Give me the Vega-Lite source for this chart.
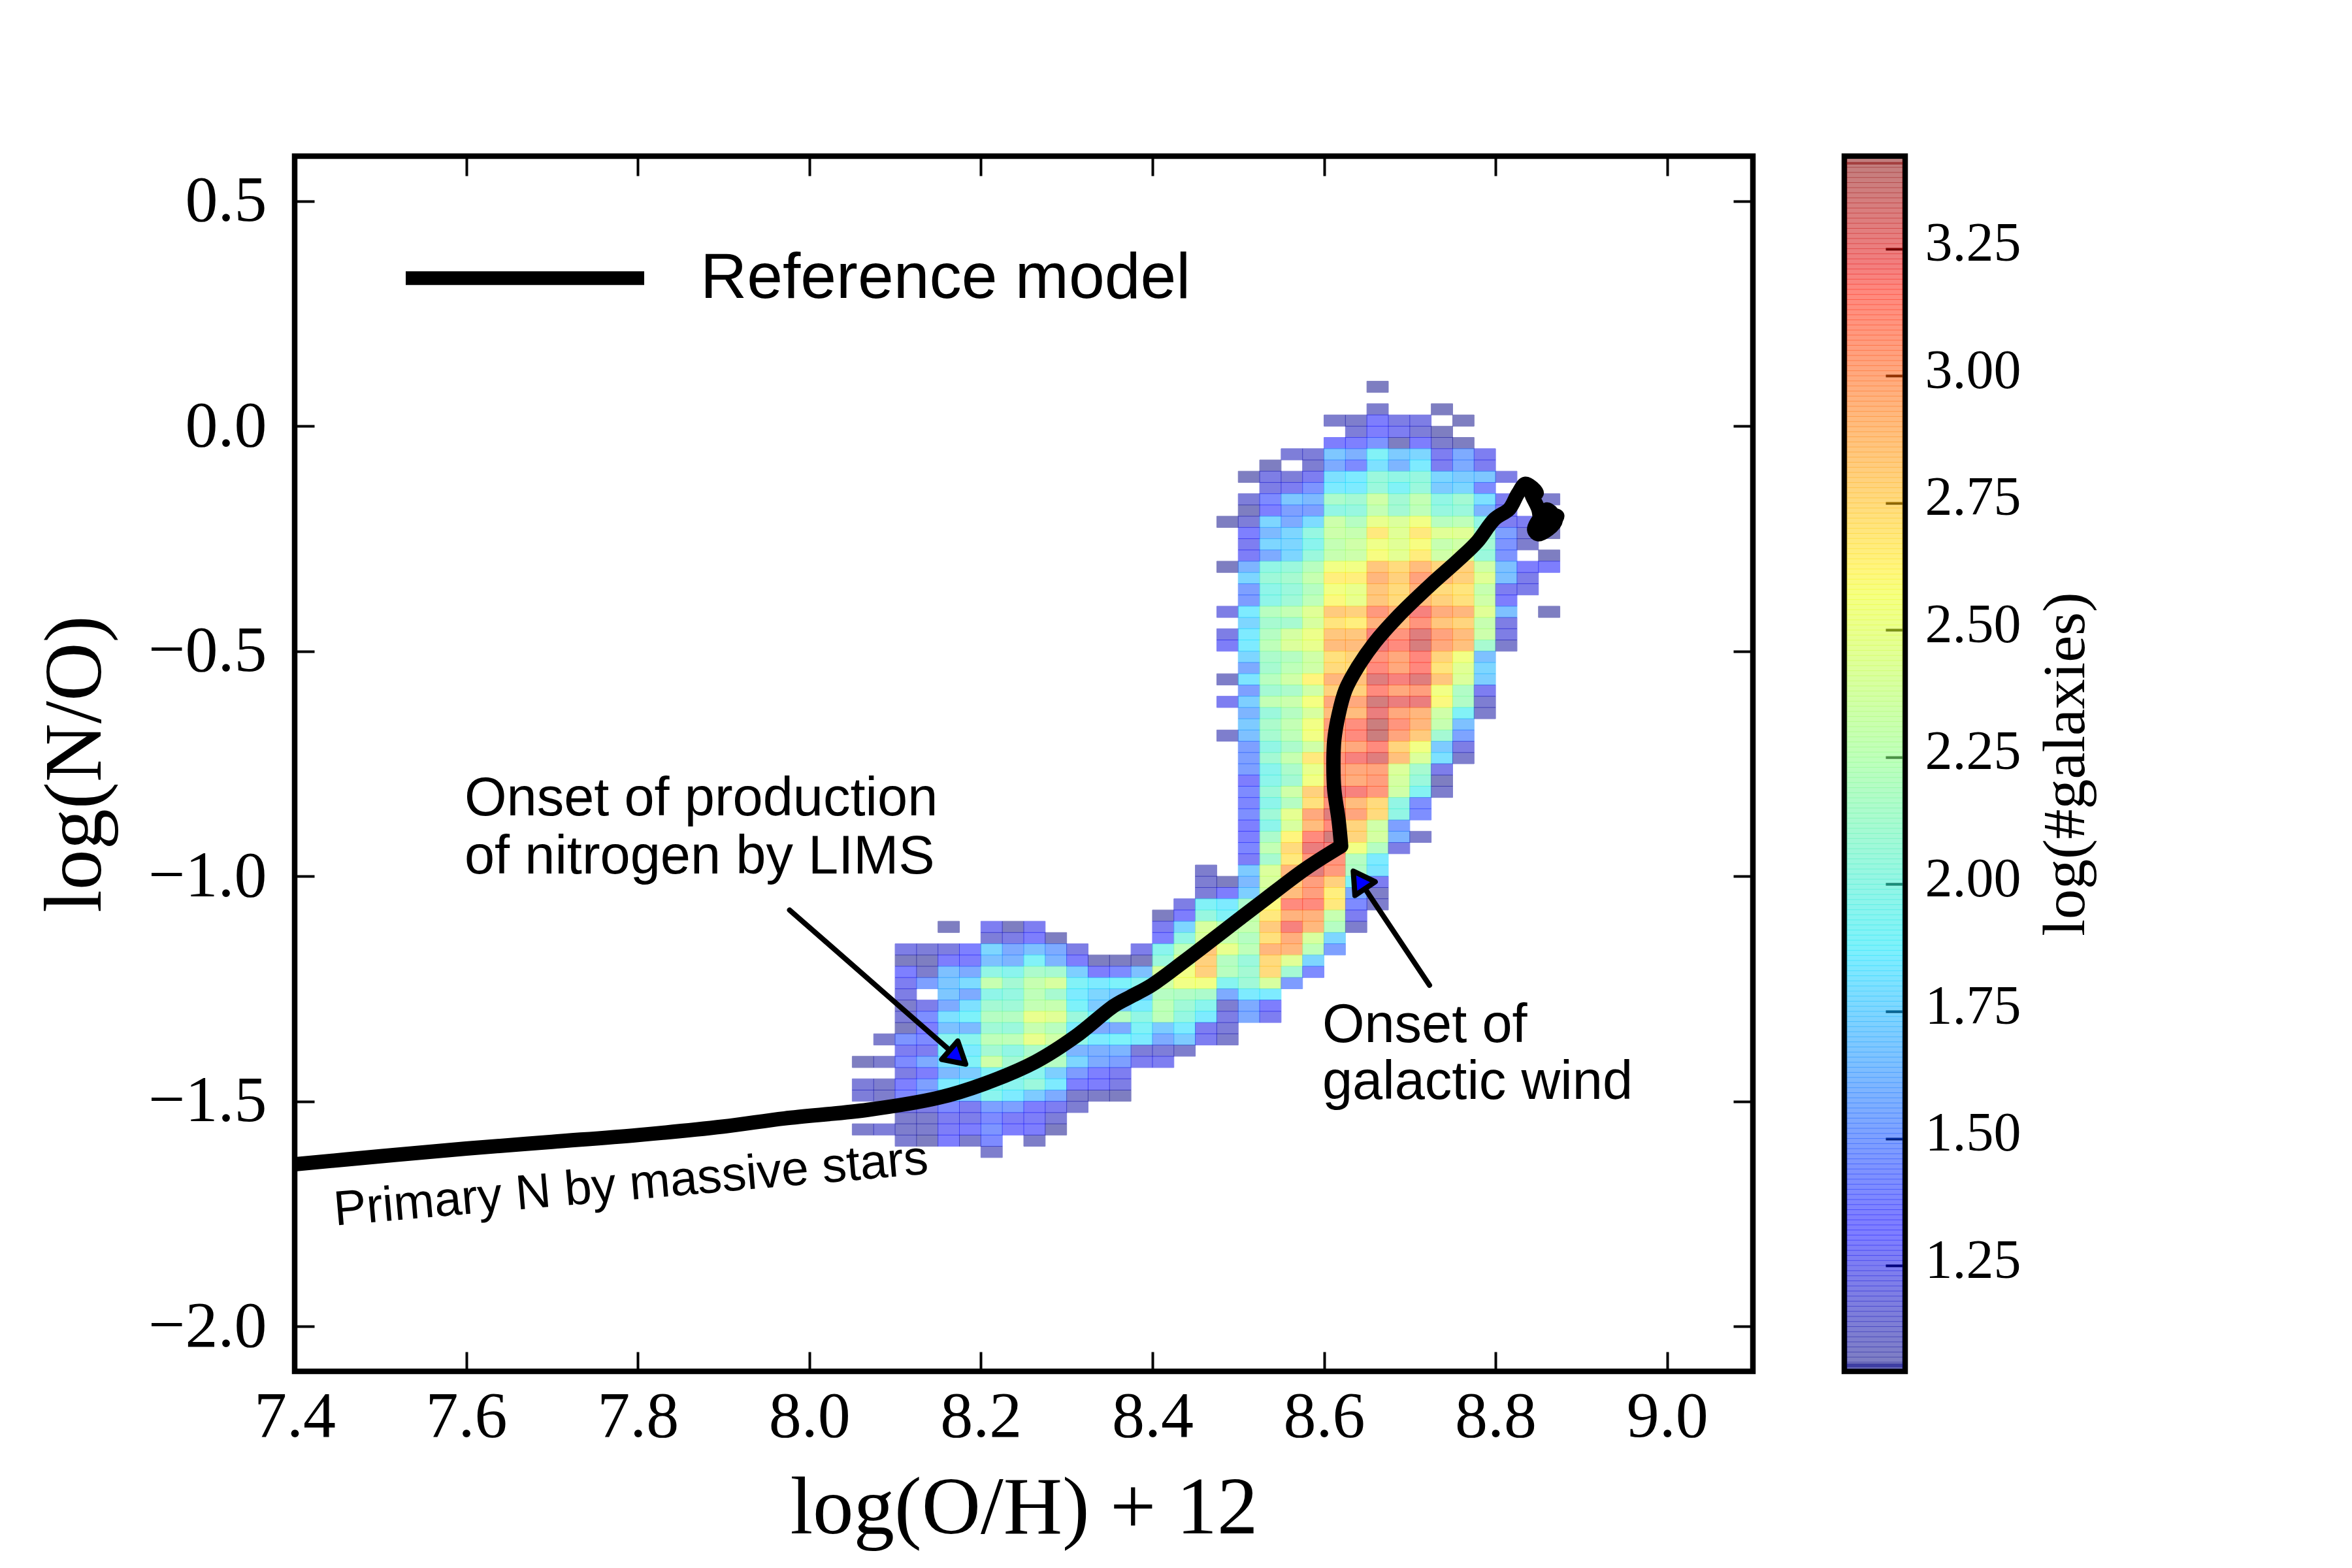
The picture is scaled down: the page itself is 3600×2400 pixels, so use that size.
{
"$schema":"https://vega.github.io/schema/vega-lite/v6.json",
"background":"white",
"padding":{"left":49,"top":232,"right":20,"bottom":20},
"bounds":"flush",
"spacing":140,
"config":{"view":{"stroke":"black","strokeWidth":8.5},"axis":{"labelFont":"Liberation Serif","titleFont":"Liberation Serif","labelColor":"black","titleColor":"black","titleFontWeight":"normal","grid":false,"domain":false,"tickColor":"black","tickWidth":4,"tickSize":-30,"labelLimit":1000}},
"datasets":{
"cells":[
{"x":8.6625,"y":0.0875,"v":1.05},
{"x":8.6625,"y":0.0375,"v":1.1},{"x":8.7375,"y":0.0375,"v":1.05},
{"x":8.6125,"y":0.0125,"v":1.1},{"x":8.6375,"y":0.0125,"v":1.1},{"x":8.6625,"y":0.0125,"v":1.3},{"x":8.6875,"y":0.0125,"v":1.2},{"x":8.7125,"y":0.0125,"v":1.2},{"x":8.7625,"y":0.0125,"v":1.05},
{"x":8.6375,"y":-0.0125,"v":1.15},{"x":8.6625,"y":-0.0125,"v":1.3},{"x":8.6875,"y":-0.0125,"v":1.25},{"x":8.7125,"y":-0.0125,"v":1.15},{"x":8.7375,"y":-0.0125,"v":1.05},
{"x":8.6125,"y":-0.0375,"v":1.3},{"x":8.6375,"y":-0.0375,"v":1.35},{"x":8.6625,"y":-0.0375,"v":1.45},{"x":8.6875,"y":-0.0375,"v":1.05},{"x":8.7125,"y":-0.0375,"v":1.3},{"x":8.7375,"y":-0.0375,"v":1.1},{"x":8.7625,"y":-0.0375,"v":1.05},
{"x":8.5625,"y":-0.0625,"v":1.15},{"x":8.5875,"y":-0.0625,"v":1.15},{"x":8.6125,"y":-0.0625,"v":1.68},{"x":8.6375,"y":-0.0625,"v":1.58},{"x":8.6625,"y":-0.0625,"v":1.9},{"x":8.6875,"y":-0.0625,"v":1.7},{"x":8.7125,"y":-0.0625,"v":1.75},{"x":8.7375,"y":-0.0625,"v":1.25},{"x":8.7625,"y":-0.0625,"v":1.55},{"x":8.7875,"y":-0.0625,"v":1.25},
{"x":8.5375,"y":-0.0875,"v":1.05},{"x":8.5875,"y":-0.0875,"v":1.12},{"x":8.6125,"y":-0.0875,"v":1.55},{"x":8.6375,"y":-0.0875,"v":1.4},{"x":8.6625,"y":-0.0875,"v":1.8},{"x":8.6875,"y":-0.0875,"v":1.6},{"x":8.7125,"y":-0.0875,"v":1.85},{"x":8.7375,"y":-0.0875,"v":1.25},{"x":8.7625,"y":-0.0875,"v":1.55},{"x":8.7875,"y":-0.0875,"v":1.25},
{"x":8.5125,"y":-0.1125,"v":1.05},{"x":8.5375,"y":-0.1125,"v":1.2},{"x":8.5625,"y":-0.1125,"v":1.15},{"x":8.5875,"y":-0.1125,"v":1.25},{"x":8.6125,"y":-0.1125,"v":1.8},{"x":8.6375,"y":-0.1125,"v":1.85},{"x":8.6625,"y":-0.1125,"v":2.05},{"x":8.6875,"y":-0.1125,"v":2.0},{"x":8.7125,"y":-0.1125,"v":2.03},{"x":8.7375,"y":-0.1125,"v":1.75},{"x":8.7625,"y":-0.1125,"v":1.7},{"x":8.7875,"y":-0.1125,"v":1.68},{"x":8.8125,"y":-0.1125,"v":1.2},
{"x":8.5375,"y":-0.1375,"v":1.2},{"x":8.5625,"y":-0.1375,"v":1.25},{"x":8.5875,"y":-0.1375,"v":1.45},{"x":8.6125,"y":-0.1375,"v":1.85},{"x":8.6375,"y":-0.1375,"v":1.85},{"x":8.6625,"y":-0.1375,"v":2.05},{"x":8.6875,"y":-0.1375,"v":1.9},{"x":8.7125,"y":-0.1375,"v":2.05},{"x":8.7375,"y":-0.1375,"v":1.7},{"x":8.7625,"y":-0.1375,"v":1.75},{"x":8.7875,"y":-0.1375,"v":1.4},
{"x":8.5125,"y":-0.1625,"v":1.15},{"x":8.5375,"y":-0.1625,"v":1.4},{"x":8.5625,"y":-0.1625,"v":1.68},{"x":8.5875,"y":-0.1625,"v":1.62},{"x":8.6125,"y":-0.1625,"v":2.15},{"x":8.6375,"y":-0.1625,"v":2.1},{"x":8.6625,"y":-0.1625,"v":2.35},{"x":8.6875,"y":-0.1625,"v":2.1},{"x":8.7125,"y":-0.1625,"v":2.28},{"x":8.7375,"y":-0.1625,"v":2.0},{"x":8.7625,"y":-0.1625,"v":2.1},{"x":8.7875,"y":-0.1625,"v":1.8},{"x":8.8125,"y":-0.1625,"v":1.25},{"x":8.8625,"y":-0.1625,"v":1.1},
{"x":8.5125,"y":-0.1875,"v":1.05},{"x":8.5375,"y":-0.1875,"v":1.35},{"x":8.5625,"y":-0.1875,"v":1.5},{"x":8.5875,"y":-0.1875,"v":1.5},{"x":8.6125,"y":-0.1875,"v":2.0},{"x":8.6375,"y":-0.1875,"v":2.03},{"x":8.6625,"y":-0.1875,"v":2.28},{"x":8.6875,"y":-0.1875,"v":2.1},{"x":8.7125,"y":-0.1875,"v":2.25},{"x":8.7375,"y":-0.1875,"v":2.03},{"x":8.7625,"y":-0.1875,"v":2.05},{"x":8.7875,"y":-0.1875,"v":1.6},{"x":8.8125,"y":-0.1875,"v":1.25},
{"x":8.4875,"y":-0.2125,"v":1.05},{"x":8.5125,"y":-0.2125,"v":1.15},{"x":8.5375,"y":-0.2125,"v":1.75},{"x":8.5625,"y":-0.2125,"v":1.55},{"x":8.5875,"y":-0.2125,"v":1.78},{"x":8.6125,"y":-0.2125,"v":2.33},{"x":8.6375,"y":-0.2125,"v":2.2},{"x":8.6625,"y":-0.2125,"v":2.5},{"x":8.6875,"y":-0.2125,"v":2.42},{"x":8.7125,"y":-0.2125,"v":2.55},{"x":8.7375,"y":-0.2125,"v":2.22},{"x":8.7625,"y":-0.2125,"v":2.25},{"x":8.7875,"y":-0.2125,"v":2.0},{"x":8.8125,"y":-0.2125,"v":1.25},{"x":8.8375,"y":-0.2125,"v":1.25},{"x":8.8625,"y":-0.2125,"v":1.15},
{"x":8.5125,"y":-0.2375,"v":1.35},{"x":8.5375,"y":-0.2375,"v":1.62},{"x":8.5625,"y":-0.2375,"v":1.75},{"x":8.5875,"y":-0.2375,"v":2.02},{"x":8.6125,"y":-0.2375,"v":2.33},{"x":8.6375,"y":-0.2375,"v":2.3},{"x":8.6625,"y":-0.2375,"v":2.68},{"x":8.6875,"y":-0.2375,"v":2.45},{"x":8.7125,"y":-0.2375,"v":2.68},{"x":8.7375,"y":-0.2375,"v":2.45},{"x":8.7625,"y":-0.2375,"v":2.45},{"x":8.7875,"y":-0.2375,"v":2.1},{"x":8.8125,"y":-0.2375,"v":1.5},{"x":8.8375,"y":-0.2375,"v":1.15},{"x":8.8625,"y":-0.2375,"v":1.05},
{"x":8.5125,"y":-0.2625,"v":1.25},{"x":8.5375,"y":-0.2625,"v":1.75},{"x":8.5625,"y":-0.2625,"v":1.75},{"x":8.5875,"y":-0.2625,"v":1.95},{"x":8.6125,"y":-0.2625,"v":2.28},{"x":8.6375,"y":-0.2625,"v":2.35},{"x":8.6625,"y":-0.2625,"v":2.53},{"x":8.6875,"y":-0.2625,"v":2.45},{"x":8.7125,"y":-0.2625,"v":2.58},{"x":8.7375,"y":-0.2625,"v":2.3},{"x":8.7625,"y":-0.2625,"v":2.35},{"x":8.7875,"y":-0.2625,"v":2.1},{"x":8.8125,"y":-0.2625,"v":1.45},{"x":8.8375,"y":-0.2625,"v":1.1},
{"x":8.5125,"y":-0.2875,"v":1.28},{"x":8.5375,"y":-0.2875,"v":1.55},{"x":8.5625,"y":-0.2875,"v":1.75},{"x":8.5875,"y":-0.2875,"v":2.05},{"x":8.6125,"y":-0.2875,"v":2.3},{"x":8.6375,"y":-0.2875,"v":2.33},{"x":8.6625,"y":-0.2875,"v":2.58},{"x":8.6875,"y":-0.2875,"v":2.47},{"x":8.7125,"y":-0.2875,"v":2.66},{"x":8.7375,"y":-0.2875,"v":2.35},{"x":8.7625,"y":-0.2875,"v":2.4},{"x":8.7875,"y":-0.2875,"v":2.05},{"x":8.8125,"y":-0.2875,"v":1.45},{"x":8.8625,"y":-0.2875,"v":1.05},
{"x":8.4875,"y":-0.3125,"v":1.05},{"x":8.5125,"y":-0.3125,"v":1.6},{"x":8.5375,"y":-0.3125,"v":2.0},{"x":8.5625,"y":-0.3125,"v":2.05},{"x":8.5875,"y":-0.3125,"v":2.22},{"x":8.6125,"y":-0.3125,"v":2.55},{"x":8.6375,"y":-0.3125,"v":2.55},{"x":8.6625,"y":-0.3125,"v":2.85},{"x":8.6875,"y":-0.3125,"v":2.75},{"x":8.7125,"y":-0.3125,"v":2.9},{"x":8.7375,"y":-0.3125,"v":2.78},{"x":8.7625,"y":-0.3125,"v":2.8},{"x":8.7875,"y":-0.3125,"v":2.35},{"x":8.8125,"y":-0.3125,"v":1.65},{"x":8.8375,"y":-0.3125,"v":1.3},{"x":8.8625,"y":-0.3125,"v":1.3},
{"x":8.5125,"y":-0.3375,"v":1.75},{"x":8.5375,"y":-0.3375,"v":2.07},{"x":8.5625,"y":-0.3375,"v":2.12},{"x":8.5875,"y":-0.3375,"v":2.3},{"x":8.6125,"y":-0.3375,"v":2.65},{"x":8.6375,"y":-0.3375,"v":2.65},{"x":8.6625,"y":-0.3375,"v":2.93},{"x":8.6875,"y":-0.3375,"v":2.8},{"x":8.7125,"y":-0.3375,"v":3.03},{"x":8.7375,"y":-0.3375,"v":2.9},{"x":8.7625,"y":-0.3375,"v":2.8},{"x":8.7875,"y":-0.3375,"v":2.45},{"x":8.8125,"y":-0.3375,"v":1.65},{"x":8.8375,"y":-0.3375,"v":1.22},
{"x":8.5125,"y":-0.3625,"v":1.5},{"x":8.5375,"y":-0.3625,"v":1.98},{"x":8.5625,"y":-0.3625,"v":2.05},{"x":8.5875,"y":-0.3625,"v":2.2},{"x":8.6125,"y":-0.3625,"v":2.55},{"x":8.6375,"y":-0.3625,"v":2.5},{"x":8.6625,"y":-0.3625,"v":2.85},{"x":8.6875,"y":-0.3625,"v":2.75},{"x":8.7125,"y":-0.3625,"v":2.95},{"x":8.7375,"y":-0.3625,"v":2.75},{"x":8.7625,"y":-0.3625,"v":2.7},{"x":8.7875,"y":-0.3625,"v":2.3},{"x":8.8125,"y":-0.3625,"v":1.25},{"x":8.8375,"y":-0.3625,"v":1.22},
{"x":8.5125,"y":-0.3875,"v":1.48},{"x":8.5375,"y":-0.3875,"v":1.98},{"x":8.5625,"y":-0.3875,"v":2.08},{"x":8.5875,"y":-0.3875,"v":2.25},{"x":8.6125,"y":-0.3875,"v":2.6},{"x":8.6375,"y":-0.3875,"v":2.5},{"x":8.6625,"y":-0.3875,"v":2.85},{"x":8.6875,"y":-0.3875,"v":2.75},{"x":8.7125,"y":-0.3875,"v":2.9},{"x":8.7375,"y":-0.3875,"v":2.8},{"x":8.7625,"y":-0.3875,"v":2.72},{"x":8.7875,"y":-0.3875,"v":2.35},{"x":8.8125,"y":-0.3875,"v":1.3},
{"x":8.4875,"y":-0.4125,"v":1.2},{"x":8.5125,"y":-0.4125,"v":1.85},{"x":8.5375,"y":-0.4125,"v":2.22},{"x":8.5625,"y":-0.4125,"v":2.28},{"x":8.5875,"y":-0.4125,"v":2.45},{"x":8.6125,"y":-0.4125,"v":2.83},{"x":8.6375,"y":-0.4125,"v":2.8},{"x":8.6625,"y":-0.4125,"v":3.08},{"x":8.6875,"y":-0.4125,"v":2.95},{"x":8.7125,"y":-0.4125,"v":3.2},{"x":8.7375,"y":-0.4125,"v":2.98},{"x":8.7625,"y":-0.4125,"v":2.93},{"x":8.7875,"y":-0.4125,"v":2.45},{"x":8.8125,"y":-0.4125,"v":1.65},{"x":8.8625,"y":-0.4125,"v":1.05},
{"x":8.5125,"y":-0.4375,"v":1.75},{"x":8.5375,"y":-0.4375,"v":2.12},{"x":8.5625,"y":-0.4375,"v":2.12},{"x":8.5875,"y":-0.4375,"v":2.4},{"x":8.6125,"y":-0.4375,"v":2.7},{"x":8.6375,"y":-0.4375,"v":2.65},{"x":8.6625,"y":-0.4375,"v":2.95},{"x":8.6875,"y":-0.4375,"v":2.9},{"x":8.7125,"y":-0.4375,"v":3.1},{"x":8.7375,"y":-0.4375,"v":2.85},{"x":8.7625,"y":-0.4375,"v":2.78},{"x":8.7875,"y":-0.4375,"v":2.3},{"x":8.8125,"y":-0.4375,"v":1.2},
{"x":8.4875,"y":-0.4625,"v":1.2},{"x":8.5125,"y":-0.4625,"v":1.85},{"x":8.5375,"y":-0.4625,"v":2.2},{"x":8.5625,"y":-0.4625,"v":2.38},{"x":8.5875,"y":-0.4625,"v":2.52},{"x":8.6125,"y":-0.4625,"v":2.85},{"x":8.6375,"y":-0.4625,"v":2.85},{"x":8.6625,"y":-0.4625,"v":3.2},{"x":8.6875,"y":-0.4625,"v":3.1},{"x":8.7125,"y":-0.4625,"v":3.3},{"x":8.7375,"y":-0.4625,"v":3.03},{"x":8.7625,"y":-0.4625,"v":2.9},{"x":8.7875,"y":-0.4625,"v":2.33},{"x":8.8125,"y":-0.4625,"v":1.2},
{"x":8.4875,"y":-0.4875,"v":1.28},{"x":8.5125,"y":-0.4875,"v":1.85},{"x":8.5375,"y":-0.4875,"v":2.25},{"x":8.5625,"y":-0.4875,"v":2.42},{"x":8.5875,"y":-0.4875,"v":2.5},{"x":8.6125,"y":-0.4875,"v":2.9},{"x":8.6375,"y":-0.4875,"v":2.9},{"x":8.6625,"y":-0.4875,"v":3.25},{"x":8.6875,"y":-0.4875,"v":3.15},{"x":8.7125,"y":-0.4875,"v":3.33},{"x":8.7375,"y":-0.4875,"v":3.0},{"x":8.7625,"y":-0.4875,"v":2.88},{"x":8.7875,"y":-0.4875,"v":2.12},{"x":8.8125,"y":-0.4875,"v":1.1},
{"x":8.5125,"y":-0.5125,"v":1.75},{"x":8.5375,"y":-0.5125,"v":2.15},{"x":8.5625,"y":-0.5125,"v":2.2},{"x":8.5875,"y":-0.5125,"v":2.35},{"x":8.6125,"y":-0.5125,"v":2.72},{"x":8.6375,"y":-0.5125,"v":2.78},{"x":8.6625,"y":-0.5125,"v":3.1},{"x":8.6875,"y":-0.5125,"v":3.0},{"x":8.7125,"y":-0.5125,"v":3.17},{"x":8.7375,"y":-0.5125,"v":2.78},{"x":8.7625,"y":-0.5125,"v":2.55},{"x":8.7875,"y":-0.5125,"v":1.65},
{"x":8.5125,"y":-0.5375,"v":1.55},{"x":8.5375,"y":-0.5375,"v":2.12},{"x":8.5625,"y":-0.5375,"v":2.25},{"x":8.5875,"y":-0.5375,"v":2.35},{"x":8.6125,"y":-0.5375,"v":2.75},{"x":8.6375,"y":-0.5375,"v":2.75},{"x":8.6625,"y":-0.5375,"v":3.15},{"x":8.6875,"y":-0.5375,"v":3.0},{"x":8.7125,"y":-0.5375,"v":3.17},{"x":8.7375,"y":-0.5375,"v":2.7},{"x":8.7625,"y":-0.5375,"v":2.45},{"x":8.7875,"y":-0.5375,"v":1.75},
{"x":8.4875,"y":-0.5625,"v":1.08},{"x":8.5125,"y":-0.5625,"v":1.82},{"x":8.5375,"y":-0.5625,"v":2.22},{"x":8.5625,"y":-0.5625,"v":2.35},{"x":8.5875,"y":-0.5625,"v":2.62},{"x":8.6125,"y":-0.5625,"v":2.93},{"x":8.6375,"y":-0.5625,"v":2.88},{"x":8.6625,"y":-0.5625,"v":3.3},{"x":8.6875,"y":-0.5625,"v":3.2},{"x":8.7125,"y":-0.5625,"v":3.3},{"x":8.7375,"y":-0.5625,"v":2.85},{"x":8.7625,"y":-0.5625,"v":2.42},{"x":8.7875,"y":-0.5625,"v":1.72},
{"x":8.5125,"y":-0.5875,"v":1.5},{"x":8.5375,"y":-0.5875,"v":2.1},{"x":8.5625,"y":-0.5875,"v":2.15},{"x":8.5875,"y":-0.5875,"v":2.35},{"x":8.6125,"y":-0.5875,"v":2.8},{"x":8.6375,"y":-0.5875,"v":2.8},{"x":8.6625,"y":-0.5875,"v":3.15},{"x":8.6875,"y":-0.5875,"v":3.0},{"x":8.7125,"y":-0.5875,"v":3.05},{"x":8.7375,"y":-0.5875,"v":2.55},{"x":8.7625,"y":-0.5875,"v":2.18},{"x":8.7875,"y":-0.5875,"v":1.25},
{"x":8.4875,"y":-0.6125,"v":1.25},{"x":8.5125,"y":-0.6125,"v":1.72},{"x":8.5375,"y":-0.6125,"v":2.28},{"x":8.5625,"y":-0.6125,"v":2.32},{"x":8.5875,"y":-0.6125,"v":2.57},{"x":8.6125,"y":-0.6125,"v":3.0},{"x":8.6375,"y":-0.6125,"v":3.0},{"x":8.6625,"y":-0.6125,"v":3.35},{"x":8.6875,"y":-0.6125,"v":3.25},{"x":8.7125,"y":-0.6125,"v":3.25},{"x":8.7375,"y":-0.6125,"v":2.6},{"x":8.7625,"y":-0.6125,"v":2.18},{"x":8.7875,"y":-0.6125,"v":1.12},
{"x":8.5125,"y":-0.6375,"v":1.6},{"x":8.5375,"y":-0.6375,"v":2.05},{"x":8.5625,"y":-0.6375,"v":2.2},{"x":8.5875,"y":-0.6375,"v":2.4},{"x":8.6125,"y":-0.6375,"v":2.9},{"x":8.6375,"y":-0.6375,"v":2.9},{"x":8.6625,"y":-0.6375,"v":3.25},{"x":8.6875,"y":-0.6375,"v":3.0},{"x":8.7125,"y":-0.6375,"v":2.93},{"x":8.7375,"y":-0.6375,"v":2.35},{"x":8.7625,"y":-0.6375,"v":1.9},{"x":8.7875,"y":-0.6375,"v":1.1},
{"x":8.5125,"y":-0.6625,"v":1.7},{"x":8.5375,"y":-0.6625,"v":2.15},{"x":8.5625,"y":-0.6625,"v":2.28},{"x":8.5875,"y":-0.6625,"v":2.55},{"x":8.6125,"y":-0.6625,"v":3.05},{"x":8.6375,"y":-0.6625,"v":3.13},{"x":8.6625,"y":-0.6625,"v":3.38},{"x":8.6875,"y":-0.6625,"v":3.1},{"x":8.7125,"y":-0.6625,"v":2.93},{"x":8.7375,"y":-0.6625,"v":2.3},{"x":8.7625,"y":-0.6625,"v":1.65},
{"x":8.4875,"y":-0.6875,"v":1.1},{"x":8.5125,"y":-0.6875,"v":1.65},{"x":8.5375,"y":-0.6875,"v":2.12},{"x":8.5625,"y":-0.6875,"v":2.25},{"x":8.5875,"y":-0.6875,"v":2.55},{"x":8.6125,"y":-0.6875,"v":3.05},{"x":8.6375,"y":-0.6875,"v":3.15},{"x":8.6625,"y":-0.6875,"v":3.38},{"x":8.6875,"y":-0.6875,"v":3.02},{"x":8.7125,"y":-0.6875,"v":2.83},{"x":8.7375,"y":-0.6875,"v":2.1},{"x":8.7625,"y":-0.6875,"v":1.52},
{"x":8.5125,"y":-0.7125,"v":1.5},{"x":8.5375,"y":-0.7125,"v":2.0},{"x":8.5625,"y":-0.7125,"v":2.15},{"x":8.5875,"y":-0.7125,"v":2.35},{"x":8.6125,"y":-0.7125,"v":2.95},{"x":8.6375,"y":-0.7125,"v":3.0},{"x":8.6625,"y":-0.7125,"v":3.15},{"x":8.6875,"y":-0.7125,"v":2.78},{"x":8.7125,"y":-0.7125,"v":2.55},{"x":8.7375,"y":-0.7125,"v":1.7},{"x":8.7625,"y":-0.7125,"v":1.2},
{"x":8.5125,"y":-0.7375,"v":1.5},{"x":8.5375,"y":-0.7375,"v":2.1},{"x":8.5625,"y":-0.7375,"v":2.3},{"x":8.5875,"y":-0.7375,"v":2.68},{"x":8.6125,"y":-0.7375,"v":3.1},{"x":8.6375,"y":-0.7375,"v":3.2},{"x":8.6625,"y":-0.7375,"v":3.3},{"x":8.6875,"y":-0.7375,"v":2.88},{"x":8.7125,"y":-0.7375,"v":2.42},{"x":8.7375,"y":-0.7375,"v":1.8},{"x":8.7625,"y":-0.7375,"v":1.1},
{"x":8.5125,"y":-0.7625,"v":1.5},{"x":8.5375,"y":-0.7625,"v":1.95},{"x":8.5625,"y":-0.7625,"v":2.15},{"x":8.5875,"y":-0.7625,"v":2.5},{"x":8.6125,"y":-0.7625,"v":3.05},{"x":8.6375,"y":-0.7625,"v":3.0},{"x":8.6625,"y":-0.7625,"v":3.02},{"x":8.6875,"y":-0.7625,"v":2.42},{"x":8.7125,"y":-0.7625,"v":2.12},{"x":8.7375,"y":-0.7625,"v":1.22},
{"x":8.5125,"y":-0.7875,"v":1.3},{"x":8.5375,"y":-0.7875,"v":1.97},{"x":8.5625,"y":-0.7875,"v":2.1},{"x":8.5875,"y":-0.7875,"v":2.55},{"x":8.6125,"y":-0.7875,"v":3.05},{"x":8.6375,"y":-0.7875,"v":2.98},{"x":8.6625,"y":-0.7875,"v":3.05},{"x":8.6875,"y":-0.7875,"v":2.38},{"x":8.7125,"y":-0.7875,"v":2.05},{"x":8.7375,"y":-0.7875,"v":1.05},
{"x":8.5125,"y":-0.8125,"v":1.4},{"x":8.5375,"y":-0.8125,"v":2.07},{"x":8.5625,"y":-0.8125,"v":2.35},{"x":8.5875,"y":-0.8125,"v":2.8},{"x":8.6125,"y":-0.8125,"v":3.25},{"x":8.6375,"y":-0.8125,"v":3.2},{"x":8.6625,"y":-0.8125,"v":3.08},{"x":8.6875,"y":-0.8125,"v":2.35},{"x":8.7125,"y":-0.8125,"v":1.92},{"x":8.7375,"y":-0.8125,"v":1.1},
{"x":8.5125,"y":-0.8375,"v":1.38},{"x":8.5375,"y":-0.8375,"v":1.97},{"x":8.5625,"y":-0.8375,"v":2.2},{"x":8.5875,"y":-0.8375,"v":2.72},{"x":8.6125,"y":-0.8375,"v":3.1},{"x":8.6375,"y":-0.8375,"v":2.9},{"x":8.6625,"y":-0.8375,"v":2.75},{"x":8.6875,"y":-0.8375,"v":2.0},{"x":8.7125,"y":-0.8375,"v":1.42},
{"x":8.5125,"y":-0.8625,"v":1.42},{"x":8.5375,"y":-0.8625,"v":2.08},{"x":8.5625,"y":-0.8625,"v":2.48},{"x":8.5875,"y":-0.8625,"v":3.0},{"x":8.6125,"y":-0.8625,"v":3.3},{"x":8.6375,"y":-0.8625,"v":3.02},{"x":8.6625,"y":-0.8625,"v":2.75},{"x":8.6875,"y":-0.8625,"v":2.0},{"x":8.7125,"y":-0.8625,"v":1.42},
{"x":8.5125,"y":-0.8875,"v":1.35},{"x":8.5375,"y":-0.8875,"v":1.97},{"x":8.5625,"y":-0.8875,"v":2.4},{"x":8.5875,"y":-0.8875,"v":2.9},{"x":8.6125,"y":-0.8875,"v":3.15},{"x":8.6375,"y":-0.8875,"v":2.78},{"x":8.6625,"y":-0.8875,"v":2.35},{"x":8.6875,"y":-0.8875,"v":1.5},
{"x":8.5125,"y":-0.9125,"v":1.35},{"x":8.5375,"y":-0.9125,"v":2.15},{"x":8.5625,"y":-0.9125,"v":2.62},{"x":8.5875,"y":-0.9125,"v":3.15},{"x":8.6125,"y":-0.9125,"v":3.35},{"x":8.6375,"y":-0.9125,"v":2.78},{"x":8.6625,"y":-0.9125,"v":2.38},{"x":8.6875,"y":-0.9125,"v":1.6},{"x":8.7125,"y":-0.9125,"v":1.1},
{"x":8.5125,"y":-0.9375,"v":1.38},{"x":8.5375,"y":-0.9375,"v":2.28},{"x":8.5625,"y":-0.9375,"v":2.75},{"x":8.5875,"y":-0.9375,"v":3.25},{"x":8.6125,"y":-0.9375,"v":3.2},{"x":8.6375,"y":-0.9375,"v":2.55},{"x":8.6625,"y":-0.9375,"v":2.2},{"x":8.6875,"y":-0.9375,"v":1.2},
{"x":8.5125,"y":-0.9625,"v":1.28},{"x":8.5375,"y":-0.9625,"v":2.12},{"x":8.5625,"y":-0.9625,"v":2.68},{"x":8.5875,"y":-0.9625,"v":3.08},{"x":8.6125,"y":-0.9625,"v":3.1},{"x":8.6375,"y":-0.9625,"v":2.2},{"x":8.6625,"y":-0.9625,"v":1.85},
{"x":8.4625,"y":-0.9875,"v":1.1},{"x":8.5125,"y":-0.9875,"v":1.7},{"x":8.5375,"y":-0.9875,"v":2.42},{"x":8.5625,"y":-0.9875,"v":2.93},{"x":8.5875,"y":-0.9875,"v":3.3},{"x":8.6125,"y":-0.9875,"v":3.07},{"x":8.6375,"y":-0.9875,"v":2.18},{"x":8.6625,"y":-0.9875,"v":1.82},
{"x":8.4625,"y":-1.0125,"v":1.12},{"x":8.4875,"y":-1.0125,"v":1.05},{"x":8.5125,"y":-1.0125,"v":1.62},{"x":8.5375,"y":-1.0125,"v":2.4},{"x":8.5625,"y":-1.0125,"v":2.85},{"x":8.5875,"y":-1.0125,"v":3.05},{"x":8.6125,"y":-1.0125,"v":2.8},{"x":8.6375,"y":-1.0125,"v":1.9},{"x":8.6625,"y":-1.0125,"v":1.25},
{"x":8.4625,"y":-1.0375,"v":1.15},{"x":8.4875,"y":-1.0375,"v":1.3},{"x":8.5125,"y":-1.0375,"v":1.72},{"x":8.5375,"y":-1.0375,"v":2.35},{"x":8.5625,"y":-1.0375,"v":2.9},{"x":8.5875,"y":-1.0375,"v":3.05},{"x":8.6125,"y":-1.0375,"v":2.65},{"x":8.6375,"y":-1.0375,"v":1.55},{"x":8.6625,"y":-1.0375,"v":1.08},
{"x":8.4375,"y":-1.0625,"v":1.2},{"x":8.4625,"y":-1.0625,"v":1.9},{"x":8.4875,"y":-1.0625,"v":1.85},{"x":8.5125,"y":-1.0625,"v":2.15},{"x":8.5375,"y":-1.0625,"v":2.6},{"x":8.5625,"y":-1.0625,"v":3.15},{"x":8.5875,"y":-1.0625,"v":3.15},{"x":8.6125,"y":-1.0625,"v":2.68},{"x":8.6375,"y":-1.0625,"v":1.4},{"x":8.6625,"y":-1.0625,"v":1.1},
{"x":8.4125,"y":-1.0875,"v":1.05},{"x":8.4375,"y":-1.0875,"v":1.3},{"x":8.4625,"y":-1.0875,"v":2.03},{"x":8.4875,"y":-1.0875,"v":1.9},{"x":8.5125,"y":-1.0875,"v":2.3},{"x":8.5375,"y":-1.0875,"v":2.68},{"x":8.5625,"y":-1.0875,"v":2.95},{"x":8.5875,"y":-1.0875,"v":2.95},{"x":8.6125,"y":-1.0875,"v":2.3},{"x":8.6375,"y":-1.0875,"v":1.25},
{"x":8.1625,"y":-1.1125,"v":1.05},{"x":8.2125,"y":-1.1125,"v":1.25},{"x":8.2375,"y":-1.1125,"v":1.05},{"x":8.2625,"y":-1.1125,"v":1.25},{"x":8.4125,"y":-1.1125,"v":1.25},{"x":8.4375,"y":-1.1125,"v":1.75},{"x":8.4625,"y":-1.1125,"v":2.4},{"x":8.4875,"y":-1.1125,"v":2.25},{"x":8.5125,"y":-1.1125,"v":2.3},{"x":8.5375,"y":-1.1125,"v":2.83},{"x":8.5625,"y":-1.1125,"v":3.2},{"x":8.5875,"y":-1.1125,"v":2.92},{"x":8.6125,"y":-1.1125,"v":2.2},{"x":8.6375,"y":-1.1125,"v":1.1},
{"x":8.2125,"y":-1.1375,"v":1.15},{"x":8.2375,"y":-1.1375,"v":1.2},{"x":8.2625,"y":-1.1375,"v":1.3},{"x":8.2875,"y":-1.1375,"v":1.05},{"x":8.4125,"y":-1.1375,"v":1.35},{"x":8.4375,"y":-1.1375,"v":2.0},{"x":8.4625,"y":-1.1375,"v":2.4},{"x":8.4875,"y":-1.1375,"v":2.3},{"x":8.5125,"y":-1.1375,"v":2.2},{"x":8.5375,"y":-1.1375,"v":2.72},{"x":8.5625,"y":-1.1375,"v":2.97},{"x":8.5875,"y":-1.1375,"v":2.4},{"x":8.6125,"y":-1.1375,"v":1.75},
{"x":8.1125,"y":-1.1625,"v":1.2},{"x":8.1375,"y":-1.1625,"v":1.15},{"x":8.1625,"y":-1.1625,"v":1.18},{"x":8.1875,"y":-1.1625,"v":1.35},{"x":8.2125,"y":-1.1625,"v":1.75},{"x":8.2375,"y":-1.1625,"v":1.55},{"x":8.2625,"y":-1.1625,"v":1.65},{"x":8.2875,"y":-1.1625,"v":1.55},{"x":8.3125,"y":-1.1625,"v":1.2},{"x":8.3875,"y":-1.1625,"v":1.22},{"x":8.4125,"y":-1.1625,"v":1.95},{"x":8.4375,"y":-1.1625,"v":2.25},{"x":8.4625,"y":-1.1625,"v":2.85},{"x":8.4875,"y":-1.1625,"v":2.5},{"x":8.5125,"y":-1.1625,"v":2.25},{"x":8.5375,"y":-1.1625,"v":2.93},{"x":8.5625,"y":-1.1625,"v":2.92},{"x":8.5875,"y":-1.1625,"v":2.25},{"x":8.6125,"y":-1.1625,"v":1.5},
{"x":8.1125,"y":-1.1875,"v":1.05},{"x":8.1375,"y":-1.1875,"v":1.05},{"x":8.1625,"y":-1.1875,"v":1.3},{"x":8.1875,"y":-1.1875,"v":1.3},{"x":8.2125,"y":-1.1875,"v":1.65},{"x":8.2375,"y":-1.1875,"v":1.6},{"x":8.2625,"y":-1.1875,"v":1.9},{"x":8.2875,"y":-1.1875,"v":1.6},{"x":8.3125,"y":-1.1875,"v":1.3},{"x":8.3375,"y":-1.1875,"v":1.05},{"x":8.3625,"y":-1.1875,"v":1.05},{"x":8.3875,"y":-1.1875,"v":1.05},{"x":8.4125,"y":-1.1875,"v":2.05},{"x":8.4375,"y":-1.1875,"v":2.4},{"x":8.4625,"y":-1.1875,"v":2.8},{"x":8.4875,"y":-1.1875,"v":2.2},{"x":8.5125,"y":-1.1875,"v":2.05},{"x":8.5375,"y":-1.1875,"v":2.75},{"x":8.5625,"y":-1.1875,"v":2.45},{"x":8.5875,"y":-1.1875,"v":1.75},
{"x":8.1125,"y":-1.2125,"v":1.35},{"x":8.1375,"y":-1.2125,"v":1.1},{"x":8.1625,"y":-1.2125,"v":1.65},{"x":8.1875,"y":-1.2125,"v":1.55},{"x":8.2125,"y":-1.2125,"v":2.0},{"x":8.2375,"y":-1.2125,"v":1.95},{"x":8.2625,"y":-1.2125,"v":2.15},{"x":8.2875,"y":-1.2125,"v":2.12},{"x":8.3125,"y":-1.2125,"v":1.72},{"x":8.3375,"y":-1.2125,"v":1.3},{"x":8.3625,"y":-1.2125,"v":1.4},{"x":8.3875,"y":-1.2125,"v":1.65},{"x":8.4125,"y":-1.2125,"v":2.4},{"x":8.4375,"y":-1.2125,"v":2.55},{"x":8.4625,"y":-1.2125,"v":2.8},{"x":8.4875,"y":-1.2125,"v":2.22},{"x":8.5125,"y":-1.2125,"v":2.1},{"x":8.5375,"y":-1.2125,"v":2.75},{"x":8.5625,"y":-1.2125,"v":2.1},{"x":8.5875,"y":-1.2125,"v":1.4},
{"x":8.1125,"y":-1.2375,"v":1.25},{"x":8.1375,"y":-1.2375,"v":1.5},{"x":8.1625,"y":-1.2375,"v":1.68},{"x":8.1875,"y":-1.2375,"v":1.78},{"x":8.2125,"y":-1.2375,"v":2.3},{"x":8.2375,"y":-1.2375,"v":2.1},{"x":8.2625,"y":-1.2375,"v":2.3},{"x":8.2875,"y":-1.2375,"v":2.4},{"x":8.3125,"y":-1.2375,"v":1.9},{"x":8.3375,"y":-1.2375,"v":1.85},{"x":8.3625,"y":-1.2375,"v":1.88},{"x":8.3875,"y":-1.2375,"v":1.95},{"x":8.4125,"y":-1.2375,"v":2.35},{"x":8.4375,"y":-1.2375,"v":2.55},{"x":8.4625,"y":-1.2375,"v":2.55},{"x":8.4875,"y":-1.2375,"v":1.93},{"x":8.5125,"y":-1.2375,"v":2.08},{"x":8.5375,"y":-1.2375,"v":2.4},{"x":8.5625,"y":-1.2375,"v":1.48},
{"x":8.1125,"y":-1.2625,"v":1.2},{"x":8.1625,"y":-1.2625,"v":1.68},{"x":8.1875,"y":-1.2625,"v":1.55},{"x":8.2125,"y":-1.2625,"v":1.98},{"x":8.2375,"y":-1.2625,"v":2.02},{"x":8.2625,"y":-1.2625,"v":2.25},{"x":8.2875,"y":-1.2625,"v":2.12},{"x":8.3125,"y":-1.2625,"v":1.85},{"x":8.3375,"y":-1.2625,"v":1.75},{"x":8.3625,"y":-1.2625,"v":1.68},{"x":8.3875,"y":-1.2625,"v":1.7},{"x":8.4125,"y":-1.2625,"v":2.2},{"x":8.4375,"y":-1.2625,"v":2.18},{"x":8.4625,"y":-1.2625,"v":2.15},{"x":8.4875,"y":-1.2625,"v":1.55},{"x":8.5125,"y":-1.2625,"v":1.85},{"x":8.5375,"y":-1.2625,"v":1.85},
{"x":8.1125,"y":-1.2875,"v":1.1},{"x":8.1375,"y":-1.2875,"v":1.22},{"x":8.1625,"y":-1.2875,"v":1.55},{"x":8.1875,"y":-1.2875,"v":1.8},{"x":8.2125,"y":-1.2875,"v":2.1},{"x":8.2375,"y":-1.2875,"v":2.08},{"x":8.2625,"y":-1.2875,"v":2.28},{"x":8.2875,"y":-1.2875,"v":2.3},{"x":8.3125,"y":-1.2875,"v":1.88},{"x":8.3375,"y":-1.2875,"v":1.7},{"x":8.3625,"y":-1.2875,"v":1.7},{"x":8.3875,"y":-1.2875,"v":1.85},{"x":8.4125,"y":-1.2875,"v":2.25},{"x":8.4375,"y":-1.2875,"v":2.08},{"x":8.4625,"y":-1.2875,"v":1.95},{"x":8.4875,"y":-1.2875,"v":1.12},{"x":8.5125,"y":-1.2875,"v":1.55},{"x":8.5375,"y":-1.2875,"v":1.3},
{"x":8.1125,"y":-1.3125,"v":1.15},{"x":8.1375,"y":-1.3125,"v":1.42},{"x":8.1625,"y":-1.3125,"v":1.8},{"x":8.1875,"y":-1.3125,"v":1.88},{"x":8.2125,"y":-1.3125,"v":2.2},{"x":8.2375,"y":-1.3125,"v":2.2},{"x":8.2625,"y":-1.3125,"v":2.5},{"x":8.2875,"y":-1.3125,"v":2.45},{"x":8.3125,"y":-1.3125,"v":2.05},{"x":8.3375,"y":-1.3125,"v":1.88},{"x":8.3625,"y":-1.3125,"v":2.2},{"x":8.3875,"y":-1.3125,"v":2.0},{"x":8.4125,"y":-1.3125,"v":2.25},{"x":8.4375,"y":-1.3125,"v":2.02},{"x":8.4625,"y":-1.3125,"v":1.85},{"x":8.4875,"y":-1.3125,"v":1.2},{"x":8.5125,"y":-1.3125,"v":1.55},{"x":8.5375,"y":-1.3125,"v":1.25},
{"x":8.1125,"y":-1.3375,"v":1.05},{"x":8.1375,"y":-1.3375,"v":1.3},{"x":8.1625,"y":-1.3375,"v":1.65},{"x":8.1875,"y":-1.3375,"v":1.62},{"x":8.2125,"y":-1.3375,"v":2.08},{"x":8.2375,"y":-1.3375,"v":2.05},{"x":8.2625,"y":-1.3375,"v":2.3},{"x":8.2875,"y":-1.3375,"v":2.22},{"x":8.3125,"y":-1.3375,"v":1.85},{"x":8.3375,"y":-1.3375,"v":1.55},{"x":8.3625,"y":-1.3375,"v":1.55},{"x":8.3875,"y":-1.3375,"v":1.9},{"x":8.4125,"y":-1.3375,"v":1.7},{"x":8.4375,"y":-1.3375,"v":1.85},{"x":8.4625,"y":-1.3375,"v":1.25},{"x":8.4875,"y":-1.3375,"v":1.15},
{"x":8.0875,"y":-1.3625,"v":1.1},{"x":8.1125,"y":-1.3625,"v":1.45},{"x":8.1375,"y":-1.3625,"v":1.4},{"x":8.1625,"y":-1.3625,"v":1.95},{"x":8.1875,"y":-1.3625,"v":1.95},{"x":8.2125,"y":-1.3625,"v":2.25},{"x":8.2375,"y":-1.3625,"v":2.25},{"x":8.2625,"y":-1.3625,"v":2.5},{"x":8.2875,"y":-1.3625,"v":2.35},{"x":8.3125,"y":-1.3625,"v":2.0},{"x":8.3375,"y":-1.3625,"v":1.85},{"x":8.3625,"y":-1.3625,"v":1.88},{"x":8.3875,"y":-1.3625,"v":1.85},{"x":8.4125,"y":-1.3625,"v":1.55},{"x":8.4375,"y":-1.3625,"v":1.7},{"x":8.4625,"y":-1.3625,"v":1.25},{"x":8.4875,"y":-1.3625,"v":1.1},
{"x":8.1125,"y":-1.3875,"v":1.25},{"x":8.1375,"y":-1.3875,"v":1.25},{"x":8.1625,"y":-1.3875,"v":1.9},{"x":8.1875,"y":-1.3875,"v":1.85},{"x":8.2125,"y":-1.3875,"v":2.1},{"x":8.2375,"y":-1.3875,"v":2.0},{"x":8.2625,"y":-1.3875,"v":2.15},{"x":8.2875,"y":-1.3875,"v":2.1},{"x":8.3125,"y":-1.3875,"v":1.6},{"x":8.3375,"y":-1.3875,"v":1.58},{"x":8.3625,"y":-1.3875,"v":1.6},{"x":8.3875,"y":-1.3875,"v":1.15},{"x":8.4125,"y":-1.3875,"v":1.15},{"x":8.4375,"y":-1.3875,"v":1.1},
{"x":8.0625,"y":-1.4125,"v":1.05},{"x":8.0875,"y":-1.4125,"v":1.1},{"x":8.1125,"y":-1.4125,"v":1.4},{"x":8.1375,"y":-1.4125,"v":1.55},{"x":8.1625,"y":-1.4125,"v":1.8},{"x":8.1875,"y":-1.4125,"v":1.9},{"x":8.2125,"y":-1.4125,"v":2.35},{"x":8.2375,"y":-1.4125,"v":2.1},{"x":8.2625,"y":-1.4125,"v":2.25},{"x":8.2875,"y":-1.4125,"v":2.2},{"x":8.3125,"y":-1.4125,"v":1.75},{"x":8.3375,"y":-1.4125,"v":1.55},{"x":8.3625,"y":-1.4125,"v":1.5},{"x":8.3875,"y":-1.4125,"v":1.25},{"x":8.4125,"y":-1.4125,"v":1.25},
{"x":8.1125,"y":-1.4375,"v":1.2},{"x":8.1375,"y":-1.4375,"v":1.3},{"x":8.1625,"y":-1.4375,"v":1.62},{"x":8.1875,"y":-1.4375,"v":1.7},{"x":8.2125,"y":-1.4375,"v":1.9},{"x":8.2375,"y":-1.4375,"v":2.0},{"x":8.2625,"y":-1.4375,"v":1.95},{"x":8.2875,"y":-1.4375,"v":1.72},{"x":8.3125,"y":-1.4375,"v":1.48},{"x":8.3375,"y":-1.4375,"v":1.35},{"x":8.3625,"y":-1.4375,"v":1.25},
{"x":8.0625,"y":-1.4625,"v":1.15},{"x":8.0875,"y":-1.4625,"v":1.1},{"x":8.1125,"y":-1.4625,"v":1.35},{"x":8.1375,"y":-1.4625,"v":1.5},{"x":8.1625,"y":-1.4625,"v":1.85},{"x":8.1875,"y":-1.4625,"v":1.85},{"x":8.2125,"y":-1.4625,"v":1.95},{"x":8.2375,"y":-1.4625,"v":1.95},{"x":8.2625,"y":-1.4625,"v":2.05},{"x":8.2875,"y":-1.4625,"v":1.85},{"x":8.3125,"y":-1.4625,"v":1.35},{"x":8.3375,"y":-1.4625,"v":1.3},{"x":8.3625,"y":-1.4625,"v":1.2},
{"x":8.0625,"y":-1.4875,"v":1.15},{"x":8.0875,"y":-1.4875,"v":1.1},{"x":8.1125,"y":-1.4875,"v":1.38},{"x":8.1375,"y":-1.4875,"v":1.5},{"x":8.1625,"y":-1.4875,"v":1.75},{"x":8.1875,"y":-1.4875,"v":1.7},{"x":8.2125,"y":-1.4875,"v":1.95},{"x":8.2375,"y":-1.4875,"v":1.85},{"x":8.2625,"y":-1.4875,"v":1.7},{"x":8.2875,"y":-1.4875,"v":1.55},{"x":8.3125,"y":-1.4875,"v":1.1},{"x":8.3375,"y":-1.4875,"v":1.08},{"x":8.3625,"y":-1.4875,"v":1.05},
{"x":8.1125,"y":-1.5125,"v":1.2},{"x":8.1375,"y":-1.5125,"v":1.2},{"x":8.1625,"y":-1.5125,"v":1.4},{"x":8.1875,"y":-1.5125,"v":1.25},{"x":8.2125,"y":-1.5125,"v":1.5},{"x":8.2375,"y":-1.5125,"v":1.5},{"x":8.2625,"y":-1.5125,"v":1.3},{"x":8.2875,"y":-1.5125,"v":1.25},{"x":8.3125,"y":-1.5125,"v":1.12},
{"x":8.1125,"y":-1.5375,"v":1.1},{"x":8.1375,"y":-1.5375,"v":1.1},{"x":8.1625,"y":-1.5375,"v":1.25},{"x":8.1875,"y":-1.5375,"v":1.22},{"x":8.2125,"y":-1.5375,"v":1.4},{"x":8.2375,"y":-1.5375,"v":1.28},{"x":8.2625,"y":-1.5375,"v":1.28},{"x":8.2875,"y":-1.5375,"v":1.15},
{"x":8.0625,"y":-1.5625,"v":1.1},{"x":8.0875,"y":-1.5625,"v":1.15},{"x":8.1125,"y":-1.5625,"v":1.1},{"x":8.1375,"y":-1.5625,"v":1.1},{"x":8.1625,"y":-1.5625,"v":1.28},{"x":8.1875,"y":-1.5625,"v":1.3},{"x":8.2125,"y":-1.5625,"v":1.45},{"x":8.2375,"y":-1.5625,"v":1.3},{"x":8.2625,"y":-1.5625,"v":1.3},{"x":8.2875,"y":-1.5625,"v":1.05},
{"x":8.1125,"y":-1.5875,"v":1.12},{"x":8.1375,"y":-1.5875,"v":1.05},{"x":8.1625,"y":-1.5875,"v":1.3},{"x":8.1875,"y":-1.5875,"v":1.1},{"x":8.2125,"y":-1.5875,"v":1.4},{"x":8.2625,"y":-1.5875,"v":1.08},
{"x":8.2125,"y":-1.6125,"v":1.1}
],
"curve":[
{"i":1,"x":7.4,"y":-1.64},{"i":2,"x":7.5,"y":-1.622},{"i":3,"x":7.6,"y":-1.605},{"i":4,"x":7.7,"y":-1.59},{"i":5,"x":7.8,"y":-1.575},{"i":6,"x":7.9,"y":-1.556},{"i":7,"x":7.971,"y":-1.538},{"i":8,"x":8.068,"y":-1.519},{"i":9,"x":8.151,"y":-1.492},{"i":10,"x":8.204,"y":-1.461},{"i":11,"x":8.263,"y":-1.413},{"i":12,"x":8.311,"y":-1.355},{"i":13,"x":8.355,"y":-1.288},{"i":14,"x":8.374,"y":-1.268},{"i":15,"x":8.399,"y":-1.242},{"i":16,"x":8.437,"y":-1.189},{"i":17,"x":8.506,"y":-1.088},{"i":18,"x":8.53,"y":-1.053},{"i":19,"x":8.578,"y":-0.984},{"i":20,"x":8.62,"y":-0.933},{"i":20.5,"x":8.62,"y":-0.933},{"i":21,"x":8.617,"y":-0.875},{"i":22,"x":8.612,"y":-0.808},{"i":23,"x":8.611,"y":-0.753},{"i":24,"x":8.612,"y":-0.697},{"i":25,"x":8.617,"y":-0.641},{"i":26,"x":8.625,"y":-0.586},{"i":27,"x":8.639,"y":-0.536},{"i":28,"x":8.659,"y":-0.481},{"i":29,"x":8.687,"y":-0.421},{"i":30,"x":8.724,"y":-0.353},{"i":31,"x":8.758,"y":-0.295},{"i":32,"x":8.779,"y":-0.256},{"i":33,"x":8.799,"y":-0.206},{"i":34,"x":8.816,"y":-0.184},{"i":35,"x":8.826,"y":-0.15},{"i":36,"x":8.835,"y":-0.128},{"i":37,"x":8.848,"y":-0.148},{"i":38,"x":8.842,"y":-0.148},{"i":39,"x":8.85,"y":-0.185},{"i":40,"x":8.855,"y":-0.23},{"i":41,"x":8.872,"y":-0.2},{"i":42,"x":8.855,"y":-0.2},{"i":43,"x":8.845,"y":-0.23},{"i":44,"x":8.85,"y":-0.24},{"i":45,"x":8.87,"y":-0.21},{"i":46,"x":8.86,"y":-0.185},{"i":47,"x":8.85,"y":-0.21}
],
"arrows":[
{"x":7.977,"y":-1.075,"x2":8.173,"y2":-1.402,"a":131},
{"x":8.723,"y":-1.242,"x2":8.641,"y2":-1.008,"a":-34}
],
"sample":[{"x":7.5295,"x2":7.8075,"y":0.329}],
"bar":[{"v":1.052},{"v":1.055},{"v":1.065},{"v":1.075},{"v":1.085},{"v":1.095},{"v":1.105},{"v":1.115},{"v":1.125},{"v":1.135},{"v":1.145},{"v":1.155},{"v":1.165},{"v":1.175},{"v":1.185},{"v":1.195},{"v":1.205},{"v":1.215},{"v":1.225},{"v":1.235},{"v":1.245},{"v":1.255},{"v":1.265},{"v":1.275},{"v":1.285},{"v":1.295},{"v":1.305},{"v":1.315},{"v":1.325},{"v":1.335},{"v":1.345},{"v":1.355},{"v":1.365},{"v":1.375},{"v":1.385},{"v":1.395},{"v":1.405},{"v":1.415},{"v":1.425},{"v":1.435},{"v":1.445},{"v":1.455},{"v":1.465},{"v":1.475},{"v":1.485},{"v":1.495},{"v":1.505},{"v":1.515},{"v":1.525},{"v":1.535},{"v":1.545},{"v":1.555},{"v":1.565},{"v":1.575},{"v":1.585},{"v":1.595},{"v":1.605},{"v":1.615},{"v":1.625},{"v":1.635},{"v":1.645},{"v":1.655},{"v":1.665},{"v":1.675},{"v":1.685},{"v":1.695},{"v":1.705},{"v":1.715},{"v":1.725},{"v":1.735},{"v":1.745},{"v":1.755},{"v":1.765},{"v":1.775},{"v":1.785},{"v":1.795},{"v":1.805},{"v":1.815},{"v":1.825},{"v":1.835},{"v":1.845},{"v":1.855},{"v":1.865},{"v":1.875},{"v":1.885},{"v":1.895},{"v":1.905},{"v":1.915},{"v":1.925},{"v":1.935},{"v":1.945},{"v":1.955},{"v":1.965},{"v":1.975},{"v":1.985},{"v":1.995},{"v":2.005},{"v":2.015},{"v":2.025},{"v":2.035},{"v":2.045},{"v":2.055},{"v":2.065},{"v":2.075},{"v":2.085},{"v":2.095},{"v":2.105},{"v":2.115},{"v":2.125},{"v":2.135},{"v":2.145},{"v":2.155},{"v":2.165},{"v":2.175},{"v":2.185},{"v":2.195},{"v":2.205},{"v":2.215},{"v":2.225},{"v":2.235},{"v":2.245},{"v":2.255},{"v":2.265},{"v":2.275},{"v":2.285},{"v":2.295},{"v":2.305},{"v":2.315},{"v":2.325},{"v":2.335},{"v":2.345},{"v":2.355},{"v":2.365},{"v":2.375},{"v":2.385},{"v":2.395},{"v":2.405},{"v":2.415},{"v":2.425},{"v":2.435},{"v":2.445},{"v":2.455},{"v":2.465},{"v":2.475},{"v":2.485},{"v":2.495},{"v":2.505},{"v":2.515},{"v":2.525},{"v":2.535},{"v":2.545},{"v":2.555},{"v":2.565},{"v":2.575},{"v":2.585},{"v":2.595},{"v":2.605},{"v":2.615},{"v":2.625},{"v":2.635},{"v":2.645},{"v":2.655},{"v":2.665},{"v":2.675},{"v":2.685},{"v":2.695},{"v":2.705},{"v":2.715},{"v":2.725},{"v":2.735},{"v":2.745},{"v":2.755},{"v":2.765},{"v":2.775},{"v":2.785},{"v":2.795},{"v":2.805},{"v":2.815},{"v":2.825},{"v":2.835},{"v":2.845},{"v":2.855},{"v":2.865},{"v":2.875},{"v":2.885},{"v":2.895},{"v":2.905},{"v":2.915},{"v":2.925},{"v":2.935},{"v":2.945},{"v":2.955},{"v":2.965},{"v":2.975},{"v":2.985},{"v":2.995},{"v":3.005},{"v":3.015},{"v":3.025},{"v":3.035},{"v":3.045},{"v":3.055},{"v":3.065},{"v":3.075},{"v":3.085},{"v":3.095},{"v":3.105},{"v":3.115},{"v":3.125},{"v":3.135},{"v":3.145},{"v":3.155},{"v":3.165},{"v":3.175},{"v":3.185},{"v":3.195},{"v":3.205},{"v":3.215},{"v":3.225},{"v":3.235},{"v":3.245},{"v":3.255},{"v":3.265},{"v":3.275},{"v":3.285},{"v":3.295},{"v":3.305},{"v":3.315},{"v":3.325},{"v":3.335},{"v":3.345},{"v":3.355},{"v":3.365},{"v":3.375},{"v":3.385},{"v":3.395},{"v":3.405},{"v":3.415},{"v":3.421}]
},
"hconcat":[
{"width":2232,"height":1860,
"resolve":{"axis":{"x":"independent","y":"independent"}},
"layer":[
{"data":{"name":"cells"},
"mark":{"type":"rect","width":32.82,"height":17.22,"opacity":0.5,"strokeWidth":1},
"encoding":{
"x":{"field":"x","type":"quantitative","scale":{"domain":[7.4,9.1],"nice":false,"zero":false},"axis":{"orient":"bottom","values":[7.4,7.6,7.8,8.0,8.2,8.4,8.6,8.8,9.0],"format":".1f","labelFontSize":100,"labelPadding":50,"labelFlush":false,"title":"log(O/H) + 12","titleFontSize":125,"titlePadding":29}},
"y":{"field":"y","type":"quantitative","scale":{"domain":[-2.1,0.6],"nice":false,"zero":false},"axis":{"orient":"left","values":[-2,-1.5,-1,-0.5,0,0.5],"format":".1f","labelFontSize":100,"labelPadding":73,"title":"log(N/O)","titleFontSize":124,"titlePadding":72}},
"fill":{"field":"v","type":"quantitative","legend":null,"scale":{"interpolate":"rgb","domain":[1.042,1.305,1.341,1.855,1.879,2.237,2.572,2.619,3.169,3.217,3.432],"range":["#000080","#0000ff","#0000ff","#00dbff","#00e6f7","#7cff7c","#eeff08","#ffec00","#ff1300","#e80000","#800000"]}},
"stroke":{"field":"v","type":"quantitative","legend":null,"scale":{"interpolate":"rgb","domain":[1.042,1.305,1.341,1.855,1.879,2.237,2.572,2.619,3.169,3.217,3.432],"range":["#000080","#0000ff","#0000ff","#00dbff","#00e6f7","#7cff7c","#eeff08","#ffec00","#ff1300","#e80000","#800000"]}}
}},
{"data":{"name":"curve"},
"mark":{"type":"line","color":"black","strokeWidth":22,"strokeCap":"round","strokeJoin":"round","clip":true,"interpolate":"catmull-rom"},
"encoding":{
"x":{"field":"x","type":"quantitative","scale":{"domain":[7.4,9.1],"nice":false,"zero":false},"axis":{"orient":"top","values":[7.4,7.6,7.8,8.0,8.2,8.4,8.6,8.8,9.0],"labels":false,"title":null}},
"y":{"field":"y","type":"quantitative","scale":{"domain":[-2.1,0.6],"nice":false,"zero":false},"axis":{"orient":"right","values":[-2,-1.5,-1,-0.5,0,0.5],"labels":false,"title":null}},
"order":{"field":"i","type":"quantitative"}
}},
{"data":{"name":"sample"},
"mark":{"type":"rule","color":"black","strokeWidth":21},
"encoding":{"x":{"field":"x","type":"quantitative","axis":null},"x2":{"field":"x2"},"y":{"field":"y","type":"quantitative","axis":null}}},
{"data":{"name":"arrows"},
"mark":{"type":"rule","color":"black","strokeWidth":8,"strokeCap":"round"},
"encoding":{"x":{"field":"x","type":"quantitative","axis":null},"x2":{"field":"x2"},"y":{"field":"y","type":"quantitative","axis":null},"y2":{"field":"y2"}}},
{"data":{"name":"arrows"},
"mark":{"type":"point","shape":"triangle-up","filled":true,"fill":"#0000ff","fillOpacity":1,"opacity":1,"stroke":"black","strokeWidth":8,"strokeJoin":"round","size":1400},
"encoding":{"x":{"field":"x2","type":"quantitative","axis":null},"y":{"field":"y2","type":"quantitative","axis":null},"angle":{"field":"a","type":"quantitative","scale":null}}},
{"data":{"values":[{"x":7.873,"y":0.329,"t":"Reference model"}]},
"mark":{"type":"text","font":"Liberation Sans","fontSize":98.5,"align":"left","baseline":"middle","color":"black"},
"encoding":{"x":{"field":"x","type":"quantitative","axis":null},"y":{"field":"y","type":"quantitative","axis":null},"text":{"field":"t"}}},
{"data":{"values":[{"x":7.598,"y":-0.828,"t":"Onset of production"},{"x":7.598,"y":-0.958,"t":"of nitrogen by LIMS"},{"x":8.598,"y":-1.332,"t":"Onset of"},{"x":8.598,"y":-1.458,"t":"galactic wind"}]},
"mark":{"type":"text","font":"Liberation Sans","fontSize":83,"align":"left","baseline":"middle","color":"black"},
"encoding":{"x":{"field":"x","type":"quantitative","axis":null},"y":{"field":"y","type":"quantitative","axis":null},"text":{"field":"t"}}},
{"data":{"values":[{"x":7.792,"y":-1.685,"t":"Primary N by massive stars"}]},
"mark":{"type":"text","font":"Liberation Sans","fontSize":75,"align":"center","baseline":"middle","color":"black","angle":355},
"encoding":{"x":{"field":"x","type":"quantitative","axis":null},"y":{"field":"y","type":"quantitative","axis":null},"text":{"field":"t"}}}
]},
{"width":93,"height":1860,
"data":{"name":"bar"},
"mark":{"type":"rect","width":85,"height":7.78,"opacity":0.5,"strokeWidth":0.8},
"encoding":{
"x":{"datum":0.5,"type":"quantitative","scale":{"domain":[0,1]},"axis":null},
"y":{"field":"v","type":"quantitative","scale":{"domain":[1.042,3.432],"nice":false,"zero":false},"axis":{"orient":"right","values":[1.25,1.5,1.75,2,2.25,2.5,2.75,3,3.25],"format":".2f","labelFontSize":84,"labelPadding":60,"labelOffset":-7,"title":"log(#galaxies)","titleFontSize":92,"titleAngle":270,"titlePadding":115}},
"fill":{"field":"v","type":"quantitative","legend":null,"scale":{"interpolate":"rgb","domain":[1.042,1.305,1.341,1.855,1.879,2.237,2.572,2.619,3.169,3.217,3.432],"range":["#000080","#0000ff","#0000ff","#00dbff","#00e6f7","#7cff7c","#eeff08","#ffec00","#ff1300","#e80000","#800000"]}},
"stroke":{"field":"v","type":"quantitative","legend":null,"scale":{"interpolate":"rgb","domain":[1.042,1.305,1.341,1.855,1.879,2.237,2.572,2.619,3.169,3.217,3.432],"range":["#000080","#0000ff","#0000ff","#00dbff","#00e6f7","#7cff7c","#eeff08","#ffec00","#ff1300","#e80000","#800000"]}}
}}
]
}
